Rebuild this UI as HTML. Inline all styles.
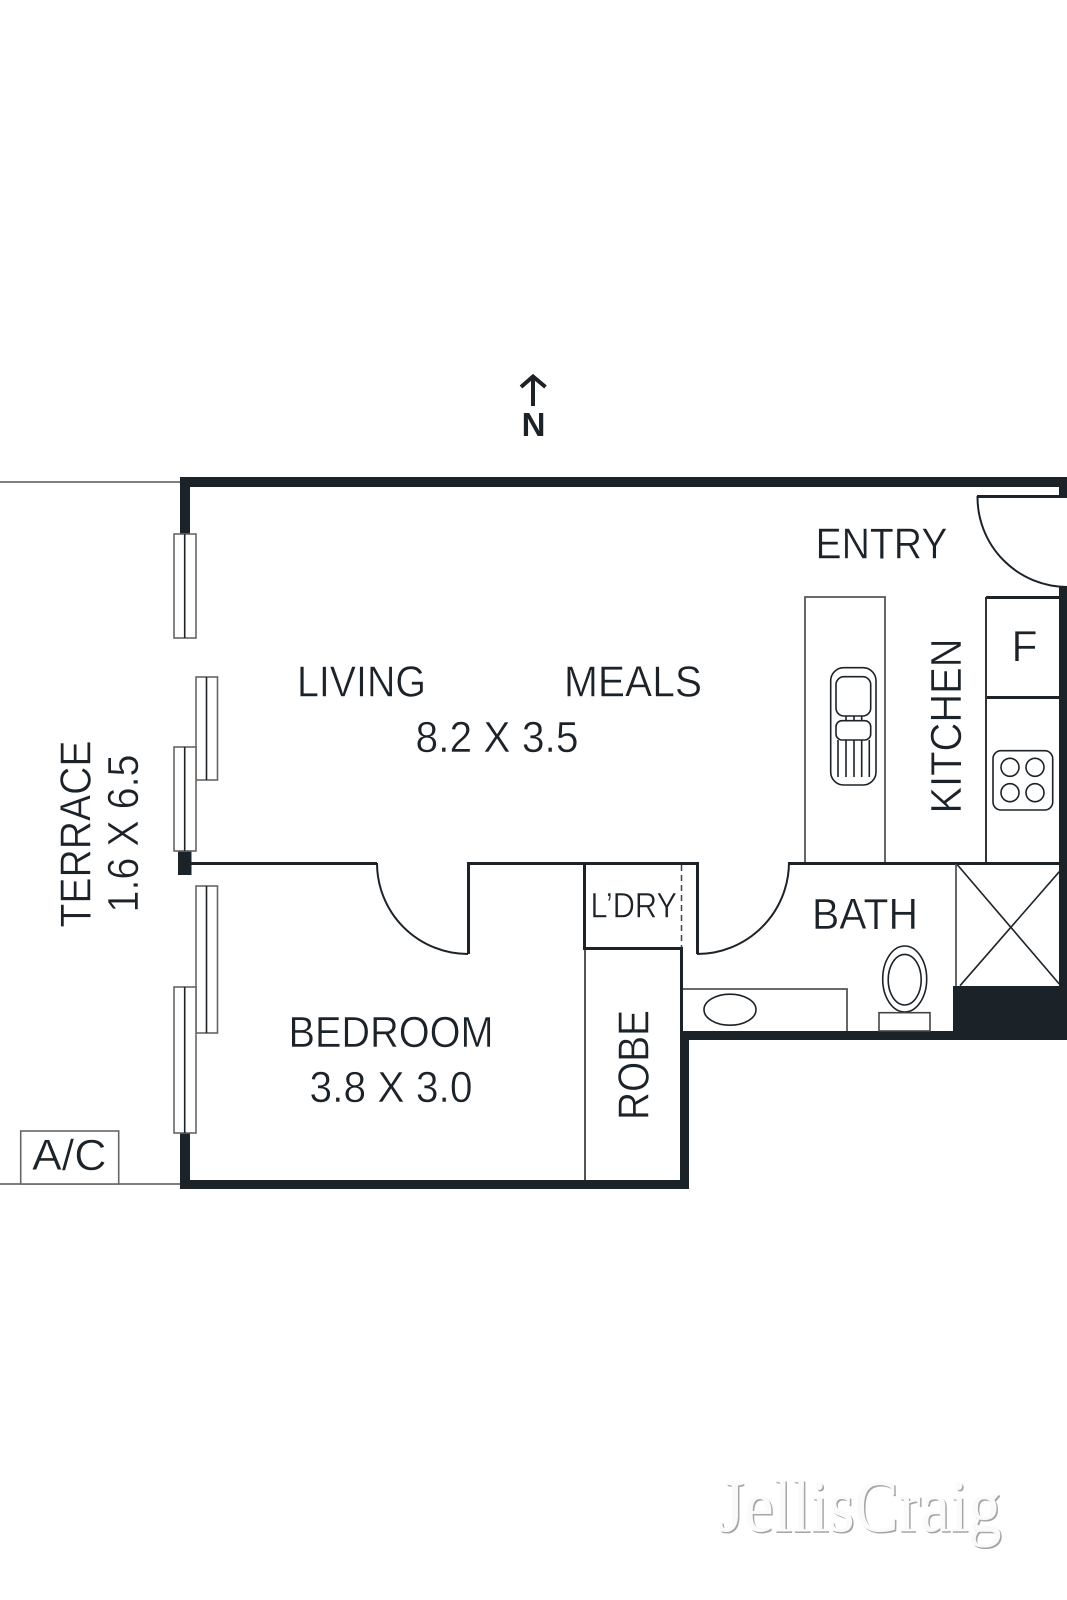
<!DOCTYPE html>
<html lang="en">
<head>
<meta charset="utf-8">
<title>Floor plan</title>
<style>
html,body{margin:0;padding:0;background:#fff;width:1067px;height:1600px;overflow:hidden}
svg{display:block}
text{font-family:"Liberation Sans",sans-serif;fill:#1b2329;font-size:43.5px;stroke:#fff;stroke-width:.5;paint-order:fill stroke}
.w{fill:#1b2329}
.t{fill:none;stroke:#1b2329;stroke-width:1.6}
.g{fill:#fff;stroke:#666;stroke-width:1.6}
.a{fill:none;stroke:#1b2329;stroke-width:2}
</style>
</head>
<body>
<svg width="1067" height="1600" viewBox="0 0 1067 1600" xmlns="http://www.w3.org/2000/svg">
<!-- terrace lines -->
<line x1="0" y1="482" x2="180" y2="482" stroke="#555" stroke-width="1.5"/>
<line x1="0" y1="1184" x2="180" y2="1184" stroke="#555" stroke-width="1.5"/>
<rect class="g" x="20.7" y="1131" width="98" height="53"/>

<!-- thick walls -->
<rect class="w" x="180" y="477" width="887" height="10"/>
<rect class="w" x="180" y="477" width="10" height="57"/>
<rect class="w" x="180" y="1133" width="10" height="56"/>
<rect class="w" x="180" y="1180" width="509" height="9"/>
<rect class="w" x="680" y="1031" width="387" height="9"/>
<rect class="w" x="680" y="1031" width="9" height="158"/>
<rect class="w" x="953" y="986" width="114" height="54"/>
<rect class="w" x="1059" y="477" width="8" height="18"/>
<rect class="w" x="1059" y="587" width="8" height="399"/>
<rect class="w" x="178" y="851" width="13.5" height="24"/>

<!-- windows -->
<g>
<rect class="g" x="174" y="534" width="22" height="104"/><line class="t" x1="184.7" y1="534" x2="184.7" y2="638"/>
<rect class="g" x="196" y="677" width="21.5" height="103"/><line class="t" x1="206.5" y1="677" x2="206.5" y2="780"/>
<rect class="g" x="174" y="747" width="22" height="104"/><line class="t" x1="184.7" y1="747" x2="184.7" y2="851"/>
<rect class="g" x="196" y="886" width="21.5" height="147"/><line class="t" x1="206.5" y1="886" x2="206.5" y2="1033"/>
<rect class="g" x="174" y="987" width="22" height="146"/><line class="t" x1="184.7" y1="987" x2="184.7" y2="1133"/>
</g>

<!-- internal walls -->
<rect class="w" x="190" y="862" width="187" height="3"/>
<rect class="w" x="467" y="862" width="232" height="3"/>
<rect class="w" x="467" y="862" width="3" height="92"/>
<rect class="w" x="696" y="862" width="3" height="92"/>
<rect class="w" x="583" y="862" width="3" height="88"/>
<rect class="w" x="583" y="947" width="100" height="3"/>
<rect class="w" x="680" y="947" width="3" height="84"/>
<rect class="w" x="789" y="862" width="270" height="3"/>
<line x1="585" y1="950" x2="585" y2="1180" stroke="#555" stroke-width="2"/>
<line x1="681.5" y1="865" x2="681.5" y2="947" stroke="#444" stroke-width="1.5" stroke-dasharray="6 4"/>

<!-- door arcs -->
<path class="a" d="M377 863 A91 91 0 0 0 468 954"/>
<path class="a" d="M697 954 A92 92 0 0 0 789 862"/>
<rect class="w" x="977" y="495" width="90" height="3"/>
<path class="a" d="M977.5 496 A90 90 0 0 0 1067 587"/>

<!-- kitchen -->
<rect class="w" x="986" y="596" width="73" height="3"/>
<rect class="w" x="986" y="696" width="73" height="3"/>
<line x1="986" y1="597" x2="986" y2="862" stroke="#333" stroke-width="2"/>
<path d="M805 862V597H885V862" fill="none" stroke="#555" stroke-width="1.8"/>
<rect class="t" x="830.7" y="667.7" width="45.3" height="117.3" rx="13"/>
<rect class="t" x="836" y="676.7" width="34.7" height="39.3" rx="8"/>
<rect class="t" x="836" y="720.7" width="34.7" height="19.3" rx="6"/>
<path class="t" d="M838 740V777M846 740V777M854 740V777M861.7 740V777M869.3 740V777M846 716V721M854 716V721M861.7 716V721"/>
<rect class="t" x="993" y="750.7" width="59.7" height="59.3" rx="8"/>
<circle class="t" cx="1010" cy="767.3" r="9"/>
<circle class="t" cx="1035" cy="767.3" r="9"/>
<circle class="t" cx="1010" cy="792.7" r="9"/>
<circle class="t" cx="1035" cy="792.7" r="9"/>

<!-- bath -->
<line x1="956" y1="864" x2="956" y2="986" stroke="#555" stroke-width="1.8"/>
<line class="t" x1="956.7" y1="864" x2="1059.3" y2="984"/>
<line class="t" x1="1059.3" y1="871.7" x2="960" y2="985.7"/>
<path d="M683 989H847V1031" fill="none" stroke="#555" stroke-width="1.8"/>
<ellipse class="t" cx="730" cy="1009.7" rx="26" ry="15.5"/>
<ellipse class="t" cx="904.7" cy="979" rx="22" ry="33"/>
<ellipse class="t" cx="904.7" cy="979.7" rx="16.5" ry="25.3"/>
<rect x="879" y="1012.7" width="51" height="18.3" fill="#fff" stroke="#444" stroke-width="1.6"/>

<!-- north arrow -->
<path d="M533 406V377M521 387L533 376.5L545.5 387" fill="none" stroke="#1b2329" stroke-width="4"/>
<text x="533.5" y="436" text-anchor="middle" font-weight="700" style="font-size:33px;stroke:none">N</text>

<!-- labels -->
<text x="297" y="696.7" textLength="129" lengthAdjust="spacingAndGlyphs">LIVING</text>
<text x="564" y="696.7" textLength="138" lengthAdjust="spacingAndGlyphs">MEALS</text>
<text x="415.5" y="752" textLength="163" lengthAdjust="spacingAndGlyphs">8.2 X 3.5</text>
<text x="815.5" y="558.7" textLength="132" lengthAdjust="spacingAndGlyphs">ENTRY</text>
<text x="1011.5" y="661" textLength="26" lengthAdjust="spacingAndGlyphs">F</text>
<text x="590.5" y="917.7" textLength="86.5" lengthAdjust="spacingAndGlyphs" style="font-size:35px">L’DRY</text>
<text x="288.5" y="1047" textLength="205" lengthAdjust="spacingAndGlyphs">BEDROOM</text>
<text x="309.5" y="1102" textLength="163" lengthAdjust="spacingAndGlyphs">3.8 X 3.0</text>
<text x="812" y="929" textLength="106" lengthAdjust="spacingAndGlyphs">BATH</text>
<text x="32" y="1170" textLength="74.5" lengthAdjust="spacingAndGlyphs">A/C</text>
<text transform="translate(961 813.5) rotate(-90)" textLength="175" lengthAdjust="spacingAndGlyphs">KITCHEN</text>
<text transform="translate(648.7 1120) rotate(-90)" textLength="110" lengthAdjust="spacingAndGlyphs">ROBE</text>
<text transform="translate(90.7 927.5) rotate(-90)" textLength="187" lengthAdjust="spacingAndGlyphs">TERRACE</text>
<text transform="translate(138 912.5) rotate(-90)" textLength="158" lengthAdjust="spacingAndGlyphs">1.6 X 6.5</text>

<!-- watermark -->
<text x="720" y="1533" textLength="283" lengthAdjust="spacingAndGlyphs" style="font-family:'Liberation Serif',serif;font-size:74px;fill:#a6a6a6;stroke:none">JellisCraig</text>
<text x="718.5" y="1531.7" textLength="283" lengthAdjust="spacingAndGlyphs" style="font-family:'Liberation Serif',serif;font-size:74px;fill:#fafafa;stroke:none">JellisCraig</text>
</svg>
</body>
</html>
